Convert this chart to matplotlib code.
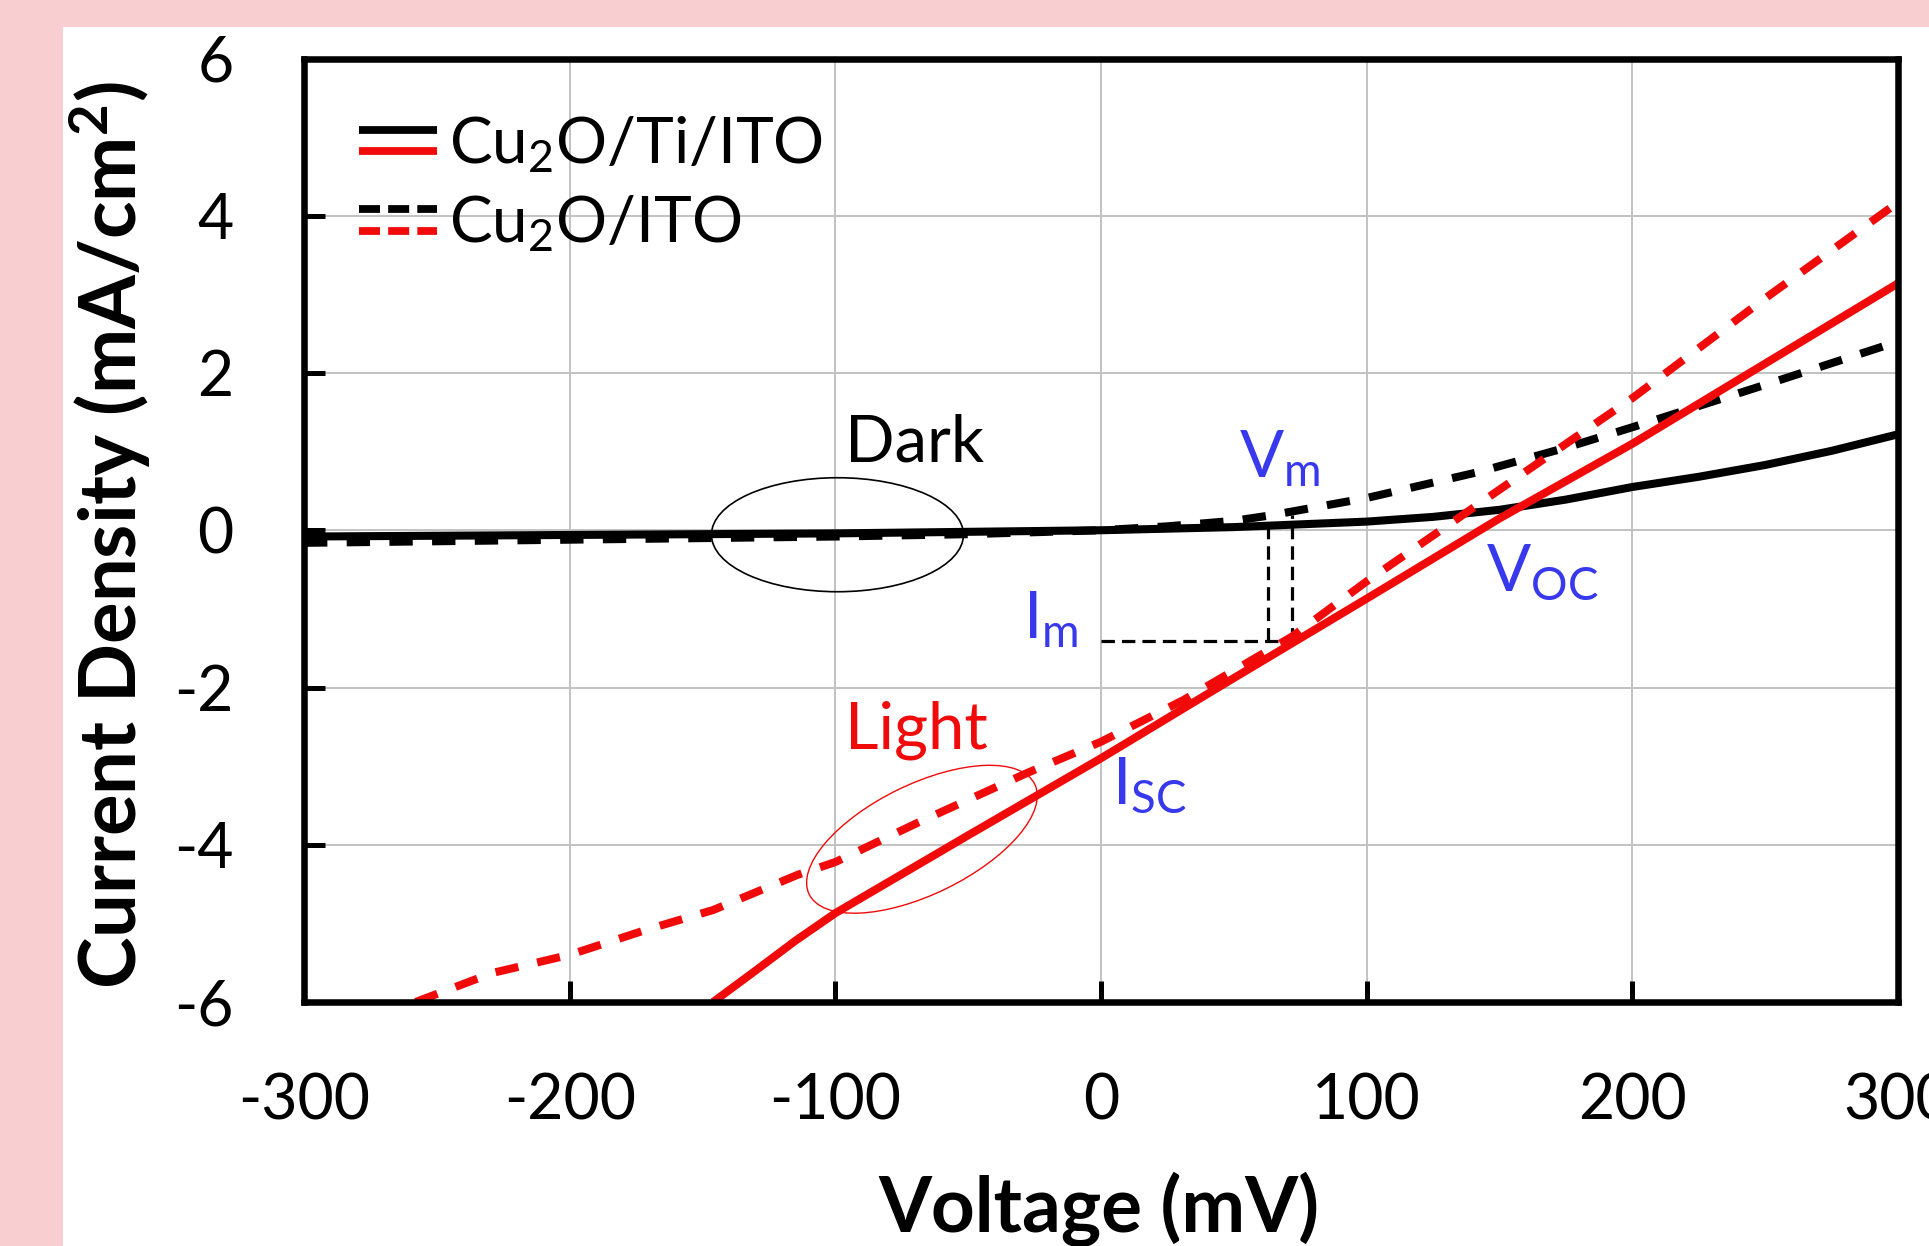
import matplotlib
matplotlib.use("Agg")
import matplotlib.pyplot as plt
import matplotlib.transforms as mtransforms
from matplotlib.patches import Ellipse, Rectangle
from matplotlib.lines import Line2D
from matplotlib.legend_handler import HandlerBase

plt.rcParams['font.family'] = ['Lato', 'DejaVu Sans']
plt.rcParams['mathtext.fontset'] = 'custom'
plt.rcParams['mathtext.rm'] = 'Lato'
plt.rcParams['mathtext.it'] = 'Lato:italic'
plt.rcParams['mathtext.bf'] = 'Lato:bold'
plt.rcParams['mathtext.default'] = 'regular'
plt.rcParams['axes.unicode_minus'] = False

# ---------------- data ----------------
# Dark, Cu2O/Ti/ITO (solid black)
V_dark_ti = [-300, -250, -200, -150, -100, -50, 0, 50, 100, 125, 150, 175, 200, 225, 250, 275, 300]
J_dark_ti = [-0.08, -0.07, -0.06, -0.05, -0.04, -0.02, 0.0, 0.04, 0.11, 0.17, 0.26, 0.39, 0.55, 0.68, 0.83, 1.01, 1.22]
# Dark, Cu2O/ITO (dashed black)
V_dark_ito = [-300, -250, -200, -150, -100, -50, 0, 25, 50, 64, 100, 142, 175, 200, 250, 300]
J_dark_ito = [-0.16, -0.14, -0.12, -0.10, -0.08, -0.05, 0.0, 0.05, 0.12, 0.19, 0.41, 0.74, 1.05, 1.31, 1.85, 2.40]
# Light, Cu2O/Ti/ITO (solid red)
V_light_ti = [-146, -130, -115, -100, -50, 0, 50, 100, 150, 200, 250, 300]
J_light_ti = [-6.0, -5.60, -5.22, -4.87, -3.88, -2.90, -1.88, -0.87, 0.15, 1.10, 2.12, 3.14]
# Light, Cu2O/ITO (dashed red)
V_light_ito = [-258, -229, -200, -171, -146, -114, -100, -69, -28, 0, 31, 72, 100, 130, 160, 200, 250, 300]
J_light_ito = [-6.0, -5.63, -5.40, -5.08, -4.83, -4.38, -4.22, -3.72, -3.09, -2.69, -2.16, -1.35, -0.65, 0.05, 0.75, 1.68, 2.95, 4.17]

# maximum power point guides
VM_X = [63, 72]
VM_TOP = [0.05, 0.19]
IM_Y = -1.41

x_ticks = [-300, -200, -100, 0, 100, 200, 300]
y_ticks = [-6, -4, -2, 0, 2, 4, 6]
legend_labels = ['Cu$_2$O/Ti/ITO', 'Cu$_2$O/ITO']

RED = '#f00a0a'
BLUE = '#3838ec'
PINK = '#f8ced0'

# ---------------- figure ----------------
W, H = 1929, 1246
fig = plt.figure(figsize=(W / 100, H / 100), dpi=100)
fig.patch.set_facecolor(PINK)
fig.add_artist(Rectangle((63 / W, 0), 1 - 63 / W, 1 - 27 / H, transform=fig.transFigure,
                         facecolor='white', edgecolor='none', zorder=-5))

ax_l, ax_r, ax_t, ax_b = 304, 1898, 58.5, 1002
ax = fig.add_axes([ax_l / W, 1 - ax_b / H, (ax_r - ax_l) / W, (ax_b - ax_t) / H])
ax.set_facecolor('white')

LW = 5.8
dash = (0, (2.9, 2.4))
ax.plot(V_dark_ti, J_dark_ti, color='black', lw=LW, solid_capstyle='butt', zorder=3)
ax.plot(V_dark_ito, J_dark_ito, color='black', lw=LW, ls=dash, dash_capstyle='butt', zorder=3)
h_ti, = ax.plot(V_light_ti, J_light_ti, color=RED, lw=LW, solid_capstyle='butt', zorder=4)
h_ito, = ax.plot(V_light_ito, J_light_ito, color=RED, lw=LW, ls=dash, dash_capstyle='butt', zorder=4)

# Vm / Im guide lines
ax.vlines(VM_X, [IM_Y, IM_Y], VM_TOP, colors='black', lw=2.3, linestyles=(0, (4.2, 2.2)), zorder=2)
ax.hlines([IM_Y], [0], [VM_X[1]], colors='black', lw=2.3, linestyles=(0, (4.2, 2.2)), zorder=2)

# ellipses (size in inches, centred in data coordinates)
ell_dark = Ellipse((0, 0), 2.52, 1.14, angle=0, fill=False, ec='black', lw=1.2,
                   transform=fig.dpi_scale_trans + mtransforms.ScaledTranslation(-99.2, -0.057, ax.transData),
                   zorder=5)
ell_light = Ellipse((0, 0), 2.51, 1.10, angle=26, fill=False, ec=RED, lw=1.0,
                    transform=fig.dpi_scale_trans + mtransforms.ScaledTranslation(-67.4, -3.93, ax.transData),
                    zorder=5)
ax.add_patch(ell_dark)
ax.add_patch(ell_light)

# annotations
tk = dict(fontsize=47, ha='left', va='baseline', zorder=6)
ax.text(-96.5, 0.87, 'Dark', color='black', **tk)
ax.text(-96.5, -2.78, 'Light', color=RED, **tk)
ax.text(52.0, 0.68, 'V$_{m}$', color=BLUE, **tk)
ax.text(-29.5, -1.37, 'I$_{m}$', color=BLUE, **tk)
ax.text(145.0, -0.78, 'V$_{OC}$', color=BLUE, **tk)
ax.text(4.0, -3.48, 'I$_{SC}$', color=BLUE, **tk)

# axes styling
ax.set_xlim(-300, 300)
ax.set_ylim(-6, 6)
ax.set_xticks(x_ticks)
ax.set_yticks(y_ticks)
ax.set_xticklabels([str(v) for v in x_ticks])
ax.set_yticklabels([str(v) for v in y_ticks])
ax.tick_params(direction='in', length=15, width=3.6, labelsize=45, pad=50.5,
               top=False, right=False)
ax.grid(True, color='#c2c2c2', lw=1.4)
ax.set_axisbelow(True)
for s in ax.spines.values():
    s.set_linewidth(4.7)
    s.set_color('black')
    s.set_zorder(7)

ax.set_xlabel('Voltage (mV)', fontsize=55, fontweight='bold')
ax.xaxis.set_label_coords(0.4987, -(1231.7 - ax_b) / (ax_b - ax_t))
ax.xaxis.label.set_va('baseline')
ax.set_ylabel(r'Current Density (mA/cm$^{\mathbf{2}}$)', fontsize=56, fontweight='bold')
ax.yaxis.set_label_coords((136.7 - ax_l) / (ax_r - ax_l), (ax_b - 535) / (ax_b - ax_t))
ax.yaxis.label.set(rotation_mode='anchor', va='baseline', ha='center')


# legend with twin (black over red) handles
class TwinLineHandler(HandlerBase):
    def __init__(self, dashes=None, sep=15.5, lw=5.6):
        super().__init__()
        self.dashes = dashes
        self.sep = sep
        self.lw = lw

    def create_artists(self, legend, orig_handle, xdescent, ydescent, width, height, fontsize, trans):
        yc = height / 2.0 - ydescent
        arts = []
        for color, dy in (('black', self.sep / 2), (RED, -self.sep / 2)):
            ln = Line2D([-xdescent, width - xdescent], [yc + dy, yc + dy], color=color, lw=self.lw,
                        solid_capstyle='butt', dash_capstyle='butt')
            if self.dashes:
                ln.set_linestyle((0, self.dashes))
            ln.set_transform(trans)
            arts.append(ln)
        return arts


fs_leg = 46
leg = ax.legend([h_ti, h_ito], legend_labels,
                handler_map={h_ti: TwinLineHandler(), h_ito: TwinLineHandler(dashes=(2.7, 1.05))},
                loc='upper left', bbox_to_anchor=((359 - ax_l) / (ax_r - ax_l), (ax_b - 114) / (ax_b - ax_t)),
                frameon=False, fontsize=fs_leg, handlelength=56 / fs_leg,
                handletextpad=(12 / 1.389) / fs_leg, labelspacing=0.29,
                borderpad=0, borderaxespad=0)
leg.set_zorder(8)

fig.savefig('out.png', dpi=100, facecolor=fig.get_facecolor())
